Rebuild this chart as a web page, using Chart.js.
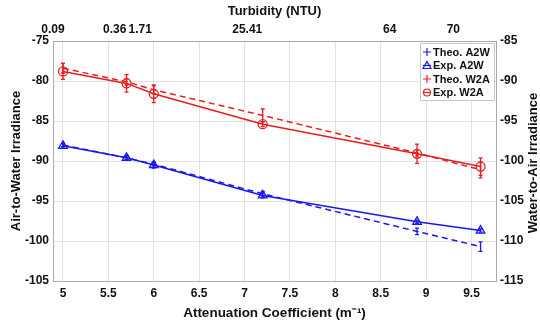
<!DOCTYPE html>
<html>
<head>
<meta charset="utf-8">
<script src="https://cdn.jsdelivr.net/npm/chart.js@4.4.1/dist/chart.umd.min.js"></script>
<style>
  body { margin: 0; background: #fff; }
  #wrap { width: 540px; height: 324px; }
</style>
</head>
<body>
<div id="wrap"><canvas id="myChart"></canvas></div>
<script>
// data
const attenuation = [5, 5.7, 6, 7.2, 8.9, 9.6];
const theoA2W = [-88.0, -89.6, -90.4, -94.1, -98.8, -100.7];
const expA2W = [-88.1, -89.6, -90.5, -94.3, -97.6, -98.7];
const theoW2A = [-88.4, -90.1, -91.1, -94.3, -99.0, -101.1];
const expW2A = [-88.8, -90.3, -91.6, -95.4, -99.1, -100.7];
const theoA2WErr = [0.2, 0.2, 0.2, 0.3, 0.4, 0.6];
const expA2WErr = [0.3, 0.3, 0.4, 0.3, 0.2, 0.2];
const theoW2AErr = [0.6, 0.4, 0.5, 0.8, 0.4, 1.0];
const expW2AErr = [1.0, 1.1, 1.1, 0.3, 1.2, 1.1];

const xTicks = [5, 5.5, 6, 6.5, 7, 7.5, 8, 8.5, 9, 9.5];
const turbidityPos = [4.89, 5.57, 5.85, 7.03, 8.6, 9.3];
const turbidityLabels = ["0.09", "0.36", "1.71", "25.41", "64", "70"];
const rightTitle = "Water-to-Air Irradiance";

const blue = "rgb(25, 25, 235)";
const red = "rgb(232, 30, 30)";
const gridColor = "rgb(226, 226, 226)";
const axisColor = "rgb(170, 170, 170)";

Chart.defaults.font.family = "'Liberation Sans', Arial, sans-serif";
Chart.defaults.font.weight = "bold";
Chart.defaults.font.size = 12;
Chart.defaults.color = "#111";

const toPoints = (ys) => attenuation.map((x, i) => ({ x: x, y: ys[i] }));

const errors = [theoA2WErr, expA2WErr, theoW2AErr, expW2AErr];

const errorBars = {
    id: "errorBars",
    afterDatasetsDraw(chart) {
        const ctx = chart.ctx;
        const xs = chart.scales.x;
        chart.data.datasets.forEach((ds, i) => {
            const ys = chart.scales[ds.yAxisID];
            ctx.save();
            ctx.strokeStyle = ds.borderColor;
            ctx.lineWidth = 1.3;
            ds.data.forEach((p, j) => {
                const e = errors[i][j];
                const px = xs.getPixelForValue(p.x);
                const top = ys.getPixelForValue(p.y + e);
                const bot = ys.getPixelForValue(p.y - e);
                ctx.beginPath();
                ctx.moveTo(px, top);
                ctx.lineTo(px, bot);
                ctx.moveTo(px - 2, top);
                ctx.lineTo(px + 2, top);
                ctx.moveTo(px - 2, bot);
                ctx.lineTo(px + 2, bot);
                ctx.stroke();
            });
            ctx.restore();
        });
    },
    afterDraw(chart) {
        const ctx = chart.ctx;
        const area = chart.chartArea;

        // right axis title, read bottom-to-top like the left one
        ctx.save();
        ctx.font = "bold 13px 'Liberation Sans', Arial, sans-serif";
        ctx.fillStyle = "#111";
        ctx.textAlign = "center";
        ctx.textBaseline = "middle";
        ctx.translate(533, (area.top + area.bottom) / 2 + 2);
        ctx.rotate(-Math.PI / 2);
        ctx.fillText(rightTitle, 0, 0);
        ctx.restore();

        // legend box in the top right corner
        const bx = area.right - 76, by = area.top + 2, bw = 74, bh = 57;
        ctx.save();
        ctx.fillStyle = "#fff";
        ctx.fillRect(bx, by, bw, bh);
        ctx.strokeStyle = "rgb(200, 200, 200)";
        ctx.lineWidth = 1;
        ctx.strokeRect(bx + 0.5, by + 0.5, bw, bh);
        ctx.font = "bold 11px 'Liberation Sans', Arial, sans-serif";
        ctx.textBaseline = "middle";
        chart.data.datasets.forEach((ds, i) => {
            const y = by + 9 + i * 13.5;
            const mx = bx + 7;
            ctx.strokeStyle = ds.borderColor;
            ctx.lineWidth = 1.2;
            ctx.beginPath();
            ctx.moveTo(mx - 4, y);
            ctx.lineTo(mx + 4, y);
            if (ds.pointRadius === 0) {
                ctx.moveTo(mx, y - 4);
                ctx.lineTo(mx, y + 4);
            }
            ctx.stroke();
            if (ds.pointStyle === "triangle") {
                ctx.beginPath();
                ctx.moveTo(mx, y - 4);
                ctx.lineTo(mx + 4, y + 3);
                ctx.lineTo(mx - 4, y + 3);
                ctx.closePath();
                ctx.stroke();
            } else if (ds.pointRadius > 0) {
                ctx.beginPath();
                ctx.arc(mx, y, 3.5, 0, Math.PI * 2);
                ctx.stroke();
            }
            ctx.fillStyle = "#111";
            ctx.fillText(ds.label, mx + 6, y + 0.5);
        });
        ctx.restore();
    }
};

const config = {
    type: "line",
    data: {
        datasets: [
            {
                label: "Theo. A2W",
                data: toPoints(theoA2W),
                yAxisID: "y",
                borderColor: blue,
                borderWidth: 1.5,
                borderDash: [6, 4],
                pointRadius: 0
            },
            {
                label: "Exp. A2W",
                data: toPoints(expA2W),
                yAxisID: "y",
                borderColor: blue,
                borderWidth: 1.5,
                pointStyle: "triangle",
                pointRadius: 5,
                pointBorderWidth: 1.3,
                pointBackgroundColor: "rgba(0,0,0,0)"
            },
            {
                label: "Theo. W2A",
                data: toPoints(theoW2A),
                yAxisID: "y2",
                borderColor: red,
                borderWidth: 1.5,
                borderDash: [6, 4],
                pointRadius: 0
            },
            {
                label: "Exp. W2A",
                data: toPoints(expW2A),
                yAxisID: "y2",
                borderColor: red,
                borderWidth: 1.5,
                pointStyle: "circle",
                pointRadius: 4.5,
                pointBorderWidth: 1.3,
                pointBackgroundColor: "rgba(0,0,0,0)"
            }
        ]
    },
    options: {
        responsive: true,
        maintainAspectRatio: false,
        animation: false,
        layout: { padding: 0 },
        plugins: {
            legend: { display: false },
            tooltip: { enabled: false }
        },
        scales: {
            x: {
                type: "linear",
                position: "bottom",
                min: 4.89,
                max: 9.77,
                afterBuildTicks: (s) => { s.ticks = xTicks.map((v) => ({ value: v })); },
                afterFit: (s) => { s.height = 43; },
                grid: { color: gridColor, drawTicks: false },
                border: { color: axisColor },
                ticks: { padding: 5, callback: (v) => v },
                title: {
                    display: true,
                    text: "Attenuation Coefficient (m\u207B\u00B9)",
                    font: { size: 13.5, weight: "bold" },
                    padding: 3
                }
            },
            xTop: {
                type: "linear",
                position: "top",
                min: 4.89,
                max: 9.77,
                afterBuildTicks: (s) => { s.ticks = turbidityPos.map((v) => ({ value: v })); },
                afterFit: (s) => { s.height = 41; },
                grid: { drawOnChartArea: false, drawTicks: false },
                border: { color: axisColor },
                ticks: {
                    padding: 4,
                    callback: (v, i) => turbidityLabels[i]
                },
                title: {
                    display: true,
                    text: "Turbidity (NTU)",
                    font: { size: 13, weight: "bold" },
                    padding: 4
                }
            },
            y: {
                position: "left",
                min: -105,
                max: -75,
                afterFit: (s) => { s.width = 53; },
                grid: { color: gridColor, drawTicks: false },
                border: { color: axisColor },
                ticks: { stepSize: 5, padding: 4 },
                title: {
                    display: true,
                    text: "Air-to-Water Irradiance",
                    font: { size: 13, weight: "bold" },
                    padding: 9
                }
            },
            y2: {
                position: "right",
                min: -115,
                max: -85,
                afterFit: (s) => { s.width = 44; },
                grid: { drawOnChartArea: false, drawTicks: false },
                border: { color: axisColor },
                ticks: { stepSize: 5, padding: 4 }
            }
        }
    },
    plugins: [errorBars]
};

const myChart = new Chart(document.getElementById("myChart"), config);
</script>
</body>
</html>
